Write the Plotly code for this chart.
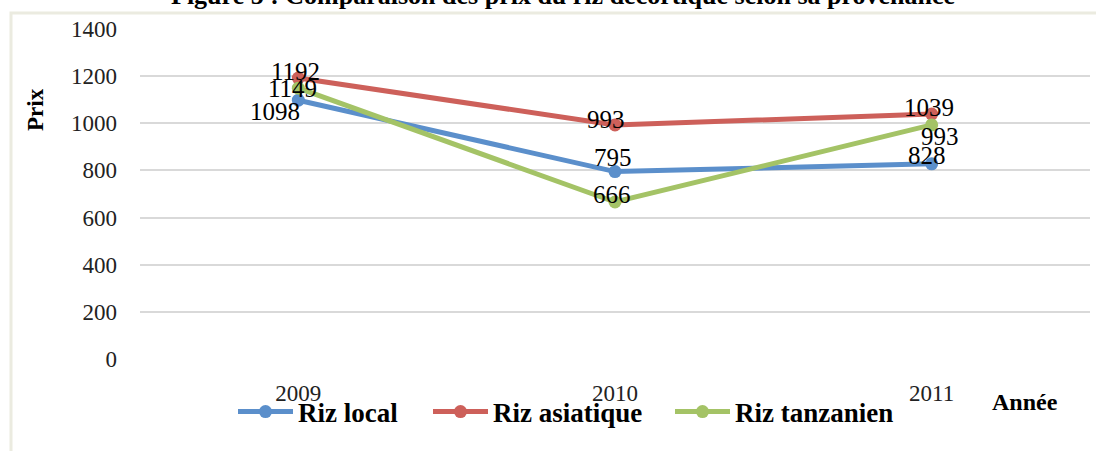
import plotly.graph_objects as go

years = ["2009", "2010", "2011"]
riz_local = [1098, 795, 828]
riz_asiatique = [1192, 993, 1039]
riz_tanzanien = [1149, 666, 993]
series_names = ["Riz local", "Riz asiatique", "Riz tanzanien"]
colors = ["#5b8fcb", "#cd605a", "#a4c366"]
y_ticks = [0, 200, 400, 600, 800, 1000, 1200, 1400]
title_text = "Figure 5 : Comparaison des prix du riz décortiqué selon sa provenance"

# label offsets (pixels) per series per point
label_shifts = [
    [(-23, -11), (-2, 14), (-5, 8)],
    [(-3, 7), (-9, 5), (-3, 7)],
    [(-6, 0), (-3, 8), (8, -12)],
]
# legend entry left edges (pixels)
legend_left_px = [238, 433, 675]
legend_ids = ["legend", "legend2", "legend3"]

SERIF = "Liberation Serif"
fig = go.Figure()
all_series = [riz_local, riz_asiatique, riz_tanzanien]
for name, vals, col, lid in zip(series_names, all_series, colors, legend_ids):
    fig.add_trace(go.Scatter(
        x=years, y=vals, name=name, mode="lines+markers",
        line=dict(color=col, width=5),
        marker=dict(color=col, size=13),
        legend=lid,
    ))

annotations = []
for vals, shifts in zip(all_series, label_shifts):
    for i, (yv, (dx, dy)) in enumerate(zip(vals, shifts)):
        annotations.append(dict(
            x=i, y=yv, xref="x", yref="y", text=str(yv), showarrow=False,
            xanchor="center", yanchor="middle",
            xshift=dx, yshift=dy, font=dict(family=SERIF, size=25, color="black"),
        ))

annotations.append(dict(
    x=(35 - 140) / 950, y=(359 - 110) / 330, xref="paper", yref="paper", text="<b>Prix</b>",
    xanchor="center", yanchor="middle",
    showarrow=False, textangle=-90, font=dict(family=SERIF, size=23, color="black"),
))
annotations.append(dict(
    x=(1025 - 140) / 950, y=(359 - 402) / 330, xref="paper", yref="paper",
    xanchor="center", yanchor="middle",
    text="<b>Année</b>", showarrow=False, font=dict(family=SERIF, size=24, color="black"),
))
annotations.append(dict(
    x=(563 - 140) / 950, y=(359 + 4) / 330, xref="paper", yref="paper",
    xanchor="center", yanchor="middle", text="<b>" + title_text + "</b>",
    showarrow=False, font=dict(family=SERIF, size=26, color="black"),
))

legend_common = dict(
    orientation="h", xanchor="left", y=(359 - 412) / 330, yanchor="middle",
    font=dict(family=SERIF, size=27, color="black", weight="bold"),
    bgcolor="rgba(0,0,0,0)", itemwidth=55, borderwidth=0,
)
legend_layout = {}
for lid, px in zip(legend_ids, legend_left_px):
    legend_layout[lid] = dict(legend_common, x=(px - 140 - 5) / 950)

fig.update_layout(
    width=1096, height=451,
    margin=dict(l=140, r=6, t=29, b=92),
    paper_bgcolor="white", plot_bgcolor="white",
    font=dict(family=SERIF, color="black"),
    showlegend=True,
    annotations=annotations,
    shapes=[dict(
        type="rect", xref="paper", yref="paper",
        x0=(11 - 140) / 950, x1=1.1, y0=-0.5, y1=(359 - 13) / 330,
        line=dict(color="#ebebe0", width=3), fillcolor="rgba(0,0,0,0)", layer="below",
    )],
    **legend_layout,
)
fig.update_xaxes(
    type="category", range=[-0.5, 2.5], showgrid=False, zeroline=False,
    showline=False, ticks="", tickfont=dict(family=SERIF, size=23, color="#222"),
    ticklabelstandoff=18,
)
fig.update_yaxes(
    range=[0, 1400], tickvals=y_ticks, showgrid=True, gridcolor="#d9d9d9", gridwidth=2,
    zeroline=False, showline=False, ticks="",
    tickfont=dict(family=SERIF, size=23, color="#222"), ticklabelstandoff=22,
)

fig.write_html("out.html", config={"displayModeBar": False},
               post_script="document.body.style.margin='0';")
